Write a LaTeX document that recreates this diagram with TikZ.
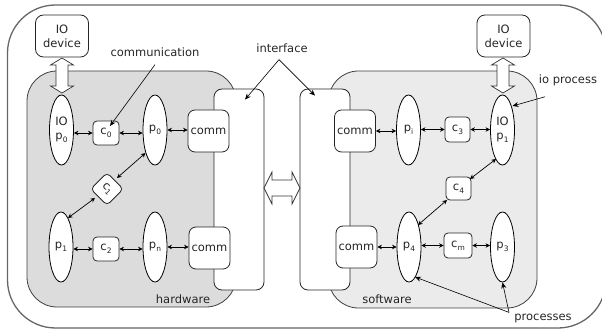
\documentclass[tikz,border=0pt]{standalone}
\usepackage{fontspec}
\setmainfont{DejaVu Sans}
\usetikzlibrary{arrows.meta,calc,shapes.geometric}
\definecolor{hwgray}{RGB}{220,220,220}
\definecolor{swgray}{RGB}{235,235,235}
\newcommand{\mysub}[1]{\raisebox{-0.45ex}{\fontsize{7.5}{8}\selectfont #1}}
\begin{document}
\begin{tikzpicture}[x=1pt,y=-1pt,
  every node/.style={font=\fontsize{11.5}{14}\selectfont, inner sep=0pt, text=black!85},
  proc/.style={ellipse, draw=black, line width=0.8pt, fill=white, minimum width=24, minimum height=70, align=center},
  cbox/.style={draw=black!85, line width=0.8pt, fill=white, rounded corners=4, minimum width=26, minimum height=24},
  commbox/.style={draw=black!85, line width=0.8pt, fill=white, rounded corners=7, minimum width=41, minimum height=42},
  iodev/.style={draw=black!85, line width=0.8pt, fill=white, rounded corners=8, minimum width=53, minimum height=42, align=center},
  ifbox/.style={draw=black!85, line width=0.8pt, fill=white, rounded corners=8, minimum width=50, minimum height=201},
  region/.style={draw=black!75, line width=0.8pt, rounded corners=30},
  blockarrow/.style={draw=black!80, fill=white, line width=0.7pt},
  dbl/.style={{Stealth[length=4.5pt,width=4.5pt]}-{Stealth[length=4.5pt,width=4.5pt]}, line width=0.7pt},
  ptr/.style={-{Stealth[length=6pt,width=5pt]}, line width=0.6pt}]
\useasboundingbox (0,0) rectangle (602,331);
% outer system
\draw[line width=1.3pt, draw=black!60, rounded corners=48] (7.5,5) rectangle (606,328);
% hardware and software regions
\draw[region, fill=hwgray] (27,71) rectangle (236,307);
\draw[region, fill=swgray] (328.5,71) rectangle (537,308);
% interface boxes
\node[ifbox] (ifL) at (239,189.5) {};
\node[ifbox] (ifR) at (325,189.5) {};
% comm boxes
\node[commbox] (commLT) at (208.5,131) {comm};
\node[commbox] (commLB) at (209.5,248) {comm};
\node[commbox] (commRT) at (355,131) {comm};
\node[commbox] (commRB) at (356.5,247) {comm};
% IO devices
\node[iodev] (iodL) at (62,36) {IO\\device};
\node[iodev] (iodR) at (503.5,36) {IO\\device};
% processes
\node[proc] (iop0) at (61.5,130) {IO\\p\mysub{0}};
\node[proc] (p0) at (155,130) {p\mysub{0}};
\node[proc] (p1) at (61,247) {p\mysub{1}};
\node[proc] (pn) at (155,247) {p\mysub{n}};
\node[proc] (pi) at (408.5,130) {p\mysub{i}};
\node[proc] (iop1) at (502.5,130) {IO\\p\mysub{1}};
\node[proc] (p4) at (409,247) {p\mysub{4}};
\node[proc] (p3) at (502.5,247) {p\mysub{3}};
% communications
\node[cbox] (c0) at (106,133) {c\mysub{0}};
\node[cbox, rotate=-45, minimum width=23, minimum height=23] (c1) at (107,189) {c\mysub{1}};
\node[cbox] (c2) at (106,249) {c\mysub{2}};
\node[cbox, minimum width=25, minimum height=25] (c3) at (457.5,129.5) {c\mysub{3}};
\node[cbox, minimum width=25, minimum height=23] (c4) at (458.5,188.5) {c\mysub{4}};
\node[cbox, minimum width=28, minimum height=25] (cm) at (458,245.5) {c\mysub{m}};
% block arrows
\draw[blockarrow] (62,58) -- (73.5,65) -- (68,65) -- (68,86) -- (73.5,86) -- (62,93)
  -- (50.5,86) -- (56,86) -- (56,65) -- (50.5,65) -- cycle;
\draw[blockarrow] (503,58) -- (514.5,65) -- (509,65) -- (509,86) -- (514.5,86) -- (503,93)
  -- (491.5,86) -- (497,86) -- (497,65) -- (491.5,65) -- cycle;
\draw[blockarrow] (264,188) -- (272,172) -- (272,180) -- (292,180) -- (292,172) -- (300,188)
  -- (292,204) -- (292,196) -- (272,196) -- (272,204) -- cycle;
% small double arrows
\draw[dbl] (iop0.east|-c0) -- (c0.west);
\draw[dbl] (c0.east) -- (p0.west|-c0);
\draw[dbl] (p0.east) -- (commLT.west|-p0.east);
\draw[dbl] (p1.east|-c2) -- (c2.west);
\draw[dbl] (c2.east) -- (pn.west|-c2);
\draw[dbl] (pn.east) -- (commLB.west|-pn.east);
\draw[dbl] ($(c1.center)+(10,-11)$) -- ($(p0.center)+(-9.5,23)$);
\draw[dbl] ($(c1.center)+(-12,9)$) -- ($(p1.center)+(7,-29)$);
\draw[dbl] (commRT.east) -- (pi.west|-commRT.east);
\draw[dbl] (pi.east|-c3) -- (c3.west);
\draw[dbl] (c3.east) -- (iop1.west|-c3);
\draw[dbl] (commRB.east) -- (p4.west|-commRB.east);
\draw[dbl] (p4.east|-cm) -- (cm.west);
\draw[dbl] (cm.east) -- (p3.west|-cm);
\draw[dbl] ($(c4.center)+(11.5,-9.5)$) -- ($(iop1.center)+(-6.5,29)$);
\draw[dbl] ($(c4.center)+(-11.5,11.5)$) -- ($(p4.center)+(9,-22)$);
% labels
\node (commlbl) at (155,52) {communication};
\node (iflbl) at (282,48) {interface};
\node (ioplbl) at (568,80) {io process};
\node (hwlbl) at (183,299) {hardware};
\node (swlbl) at (387,299) {software};
\node (prlbl) at (543,318) {processes};
% pointers
\coordinate (commstart) at ($(commlbl.south)+(0,8)$);
\draw[ptr] (commstart) -- ($(c0.center)+(4,-7)$);
\coordinate (ifapex) at ($(iflbl.south)+(-3,7)$);
\draw[ptr] (ifapex) -- ($(ifL.north)+(6,11)$);
\draw[ptr] (ifapex) -- ($(ifR.north)+(-10,7)$);
\coordinate (iopstart) at ($(ioplbl.south)+(-23,11)$);
\draw[ptr] (iopstart) -- ($(iop1.center)+(10,-24)$);
\coordinate (prapex) at ($(prlbl.north)+(-34,-1)$);
\draw[ptr] (prapex) -- ($(p4.center)+(6,30)$);
\draw[ptr] (prapex) -- (p3.south);
\end{tikzpicture}
\end{document}
